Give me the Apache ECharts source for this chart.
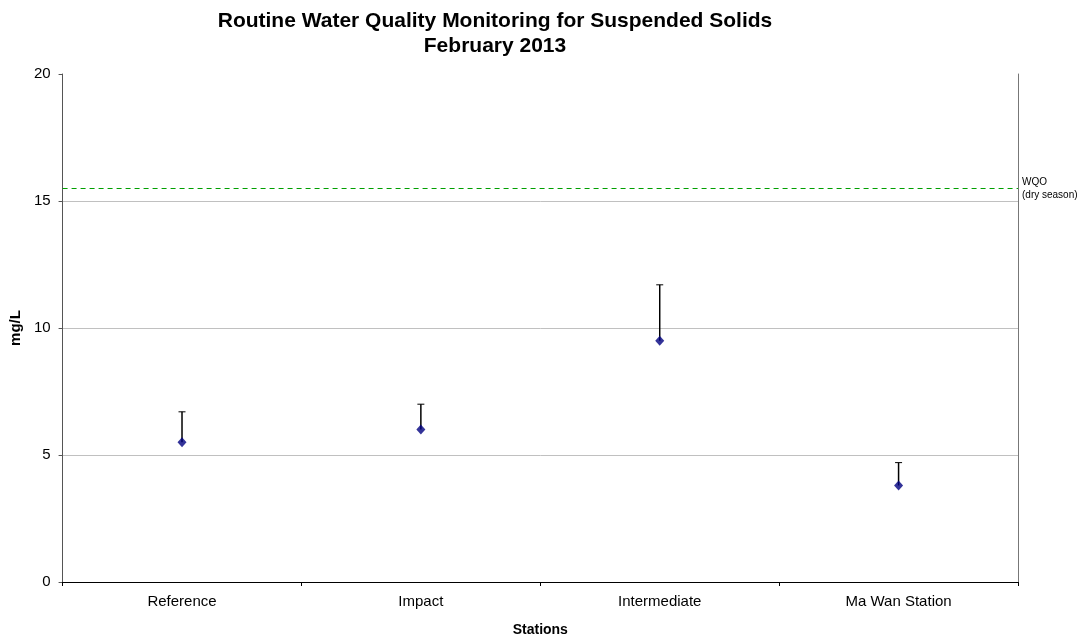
<!DOCTYPE html>
<html>
<head>
<meta charset="utf-8">
<script src="https://cdn.jsdelivr.net/npm/echarts@6/dist/echarts.min.js"></script>
<style>html,body{margin:0;padding:0;background:#fff}#c{width:1086px;height:642px}</style>
</head>
<body>
<div id="c"></div>
<script>
const categories = ['Reference', 'Impact', 'Intermediate', 'Ma Wan Station'];
const meanValues = [5.5, 6.0, 9.5, 3.8];
const upperValues = [6.7, 7.0, 11.7, 4.7];
const wqoValue = 15.5;
const yTicks = [0, 5, 10, 15, 20];

const FONT = '"Liberation Sans", Arial, sans-serif';
const chart = echarts.init(document.getElementById('c'));

chart.setOption({
  backgroundColor: '#fff',
  animation: false,
  title: {
    text: 'Routine Water Quality Monitoring for Suspended Solids\nFebruary 2013',
    left: 490,
    top: 4,
    textAlign: 'center',
    textStyle: { fontFamily: FONT, fontSize: 21, fontWeight: 'bold', color: '#000', lineHeight: 25, align: 'center' }
  },
  grid: { left: 58, right: 68, top: 74, bottom: 51, containLabel: false },
  xAxis: {
    type: 'category',
    data: categories,
    boundaryGap: true,
    name: 'Stations',
    nameLocation: 'middle',
    nameGap: 41,
    nameTextStyle: { fontFamily: FONT, fontSize: 14, fontWeight: 'bold', color: '#000' },
    axisLine: { lineStyle: { color: '#000', width: 1 } },
    axisTick: { show: true, length: 4, alignWithLabel: false, lineStyle: { color: '#000' } },
    axisLabel: { fontFamily: FONT, fontSize: 15, color: '#000', margin: 12 },
    splitLine: { show: false }
  },
  yAxis: [{
    type: 'value',
    min: yTicks[0],
    max: yTicks[yTicks.length - 1],
    interval: 5,
    name: 'mg/L',
    nameLocation: 'middle',
    nameGap: 34,
    nameRotate: 90,
    nameTextStyle: { fontFamily: FONT, fontSize: 15, fontWeight: 'bold', color: '#000' },
    axisLine: { show: true, lineStyle: { color: '#555', width: 1 } },
    axisTick: { show: true, length: 4, lineStyle: { color: '#555' } },
    axisLabel: { fontFamily: FONT, fontSize: 15, color: '#000', margin: 12 },
    splitLine: { show: true, lineStyle: { color: ['rgba(0,0,0,0)', '#c0c0c0', '#c0c0c0', '#c0c0c0', 'rgba(0,0,0,0)'], width: 1 } }
  }, {
    type: 'value',
    position: 'right',
    min: yTicks[0],
    max: yTicks[yTicks.length - 1],
    interval: 5,
    axisLine: { show: true, lineStyle: { color: '#777', width: 1 } },
    axisTick: { show: false },
    axisLabel: { show: false },
    splitLine: { show: false }
  }],
  series: [{
    type: 'custom',
    name: 'errorbar',
    data: categories.map((c, i) => [i, meanValues[i], upperValues[i]]),
    encode: { x: 0, y: [1, 2] },
    z: 2,
    renderItem: function (params, api) {
      const lo = api.coord([api.value(0), api.value(1)]);
      const hi = api.coord([api.value(0), api.value(2)]);
      const hw = 3.5;
      return {
        type: 'group',
        children: [
          { type: 'line', shape: { x1: lo[0], y1: lo[1], x2: hi[0], y2: hi[1] }, style: { stroke: '#000', lineWidth: 1.5 } },
          { type: 'line', shape: { x1: hi[0] - hw, y1: hi[1], x2: hi[0] + hw, y2: hi[1] }, style: { stroke: '#000', lineWidth: 1 } }
        ]
      };
    }
  }, {
    type: 'scatter',
    name: 'mean',
    data: meanValues,
    symbol: 'diamond',
    symbolSize: [9, 10],
    itemStyle: { color: '#000080' },
    z: 3,
    markLine: {
      silent: true,
      symbol: 'none',
      data: [{ yAxis: wqoValue }],
      lineStyle: { color: '#00a000', type: [5, 4], width: 1 },
      label: {
        show: true,
        position: 'end',
        formatter: 'WQO\n(dry season)',
        fontFamily: FONT,
        fontSize: 10,
        color: '#000',
        align: 'left',
        lineHeight: 13,
        padding: [14, 0, 0, 0],
        distance: 4
      }
    }
  }]
});
</script>
</body>
</html>
